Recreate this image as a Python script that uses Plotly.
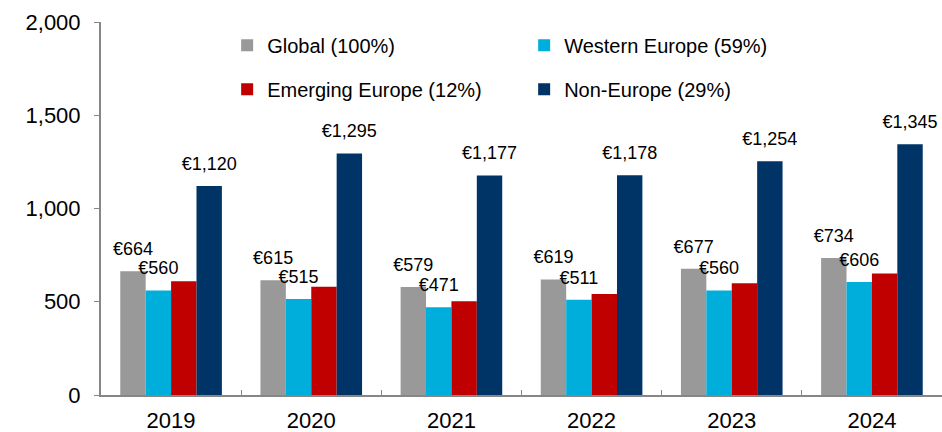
import plotly.graph_objects as go

years = ["2019", "2020", "2021", "2022", "2023", "2024"]
series_names = ["Global (100%)", "Western Europe (59%)", "Emerging Europe (12%)", "Non-Europe (29%)"]
global_vals = [664, 615, 579, 619, 677, 734]
western_vals = [560, 515, 471, 511, 560, 606]
emerging_vals = [610, 581, 503, 541, 599, 652]
noneurope_vals = [1120, 1295, 1177, 1178, 1254, 1345]
labelled = [True, True, False, True]  # which series carry value labels
y_ticks = [0, 500, 1000, 1500, 2000]

colors = ["#999999", "#00AEDB", "#C00000", "#003366"]
FONT = "Arial, Liberation Sans, sans-serif"
values = [global_vals, western_vals, emerging_vals, noneurope_vals]
legend_ids = ["legend", "legend", "legend2", "legend2"]

fig = go.Figure()
for name, vals, col, lg in zip(series_names, values, colors, legend_ids):
    fig.add_trace(go.Bar(
        x=years, y=vals, name=name, marker=dict(color=col, line=dict(width=0)),
        legend=lg, hoverinfo="x+y+name",
    ))

# value labels, grouped like the bars
for name, vals, lab in zip(series_names, values, labelled):
    fig.add_trace(go.Scatter(
        x=years, y=vals, mode="markers+text",
        text=[f"€{v:,}" for v in vals] if lab else [""] * len(vals),
        textposition="top center",
        textfont=dict(family=FONT, size=18, color="#000000"),
        marker=dict(size=17, color="rgba(0,0,0,0)"),
        showlegend=False, hoverinfo="skip", cliponaxis=False,
    ))

legend_common = dict(orientation="h", x=0.150, xanchor="left", yanchor="middle",
                     entrywidth=252, entrywidthmode="pixels",
                     font=dict(family=FONT, size=20, color="#000000"),
                     bgcolor="rgba(0,0,0,0)", itemclick=False)

fig.update_layout(
    width=942, height=432,
    margin=dict(l=101, r=0, t=22, b=37, autoexpand=False),
    paper_bgcolor="white", plot_bgcolor="white",
    barmode="group", bargap=0.275, bargroupgap=0,
    scattermode="group", scattergap=0.275,
    font=dict(family=FONT, color="#000000"),
    legend=dict(y=0.938, **legend_common),
    legend2=dict(y=0.820, **legend_common),
    xaxis=dict(
        type="category", showgrid=False, showline=True, linecolor="#868686", linewidth=2,
        ticks="inside", tickson="boundaries", ticklen=5, tickcolor="#868686", tickwidth=1,
        tickfont=dict(family=FONT, size=22, color="#000000"), ticklabelstandoff=5,
        zeroline=False, automargin=False,
    ),
    yaxis=dict(
        range=[0, 2000], tickvals=y_ticks, tickformat=",",
        showgrid=False, showline=True, linecolor="#868686", linewidth=2,
        ticks="outside", ticklen=5, tickcolor="#868686", tickwidth=1,
        tickfont=dict(family=FONT, size=22, color="#000000"), ticklabelstandoff=9,
        zeroline=False, automargin=False,
    ),
)

fig.write_html(
    "out.html",
    config={"displayModeBar": False},
    post_script="document.body.style.margin='0px';document.body.style.overflow='hidden';",
)
